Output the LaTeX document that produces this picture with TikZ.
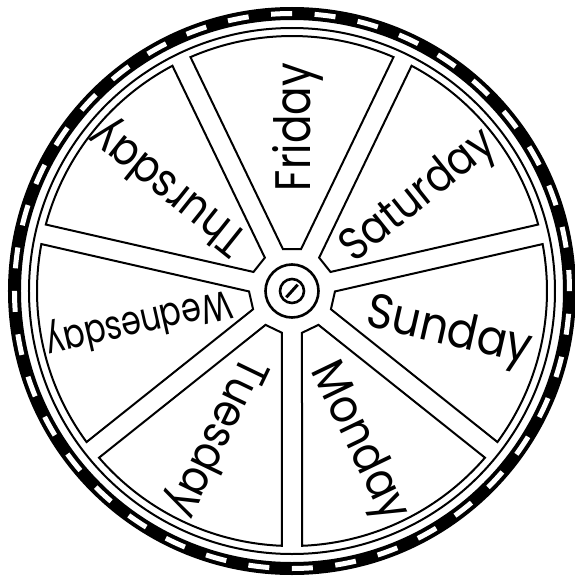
\documentclass[tikz,border=0pt]{standalone}
\usepackage{fontspec}
\setmainfont{Poppins}
\usepackage{graphicx}
\newcommand\wheellabel[6]{% #1 name, #2 angle, #3 start radius, #4 width, #5 height, #6 text
  \pgfmathsetmacro\wlx{#2-90}\pgfmathsetmacro\wlh{#5/2}%
  \path (#2:#3pt) ++(\wlx:\wlh pt) node[daylabel, rotate=#2] (#1) {\resizebox{#4pt}{#5pt}{#6}};}
\begin{document}
\begin{tikzpicture}[x=1pt,y=1pt,
  panel/.style={draw=black, line width=2pt, line join=miter},
  rimline/.style={draw=black, line width=2pt},
  hubline/.style={draw=black, line width=2.6pt},
  daylabel/.style={inner sep=0pt, outer sep=0pt, anchor=base west}]
\fill[white] (-292,-288) rectangle (282,291);
\useasboundingbox (-292,-288) rectangle (282,291);
% outer band with white dashes
\draw[line width=13pt] (0,0) circle[radius=277.5pt];
\draw[white, line width=5pt, dash pattern=on 21pt off 22.59pt] (0,0) circle[radius=277.5pt];
% thin rim circle
\draw[rimline] (0,0) circle[radius=263pt];
% panels
\foreach \k in {0,...,6}{
  \pgfmathsetmacro\pa{-90+\k*360/7}
  \pgfmathsetmacro\pb{\pa+360/7}
  \pgfmathsetmacro\pm{\pa+180/7}
  \pgfmathsetmacro\pinl{\pm-12.26}
  \pgfmathsetmacro\pinr{\pm+12.26}
  \pgfmathsetmacro\pas{\pa+2.25}
  \pgfmathsetmacro\pbe{\pb-2.25}
  \draw[panel] (\pinl:42.98pt) -- (\pas:255pt) arc[start angle=\pas, end angle=\pbe, radius=255pt] -- (\pinr:42.98pt) -- cycle;
}
% hub
\draw[hubline] (0,0) circle[radius=26.5pt];
\draw[hubline] (0,0) circle[radius=12pt];
\draw[line width=3pt] (228:8.5pt) -- (48:8.5pt);
% labels
\wheellabel{fri}{90}{100}{128}{38}{Friday}
\wheellabel{sat}{38.571}{66}{184}{34}{Saturday}
\wheellabel{sun}{-12.857}{78}{168}{36}{Sunday}
\wheellabel{mon}{-64.286}{80}{170}{35}{Monday}
\wheellabel{tue}{244.286}{79}{171}{34}{Tuesday}
\wheellabel{wed}{192.857}{62}{189}{30}{Wednesday}
\wheellabel{thu}{141.429}{67}{187}{34}{Thursday}
\end{tikzpicture}
\end{document}
